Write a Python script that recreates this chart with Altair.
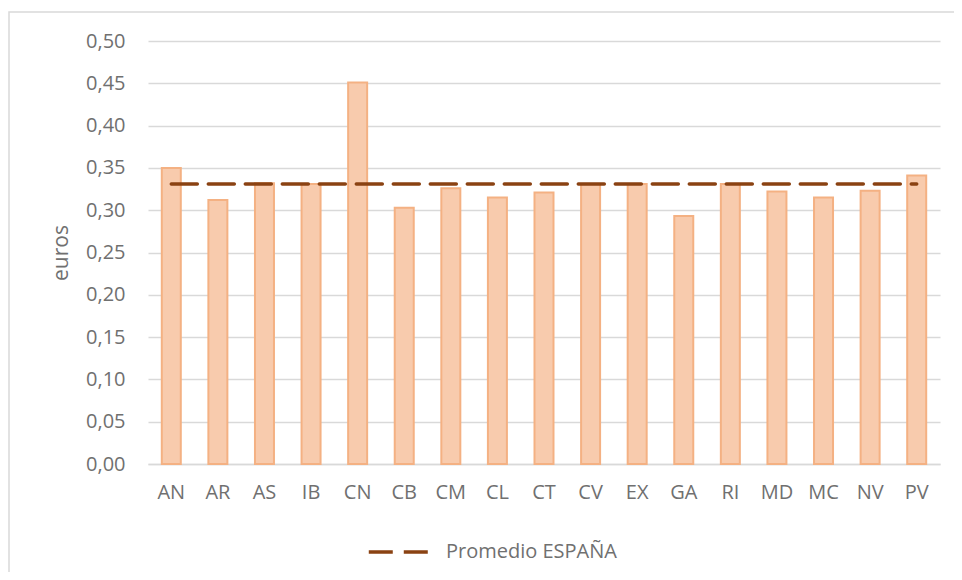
import altair as alt
import pandas as pd

regions = ["AN", "AR", "AS", "IB", "CN", "CB", "CM", "CL", "CT", "CV",
           "EX", "GA", "RI", "MD", "MC", "NV", "PV"]
values = [0.350, 0.312, 0.332, 0.331, 0.451, 0.303, 0.326, 0.315, 0.321, 0.331,
          0.331, 0.293, 0.331, 0.322, 0.315, 0.323, 0.341]
promedio = 0.331
legend_label = "Promedio ESPAÑA"
y_ticks = [0, 0.05, 0.10, 0.15, 0.20, 0.25, 0.30, 0.35, 0.40, 0.45, 0.50]

df = pd.DataFrame({"region": regions, "valor": values,
                   "promedio": [promedio] * len(regions),
                   "serie": [legend_label] * len(regions)})

FONT = "Open Sans"
TXT = "#707070"
GRID = "#D9D9D9"

x_enc = alt.X("region:N", sort=regions, title=None,
              scale=alt.Scale(paddingInner=0, paddingOuter=0),
              axis=alt.Axis(labelAngle=0, ticks=False, tickSize=0, labelPadding=18,
                            domainColor=GRID, domainWidth=1.5, grid=False,
                            labelFont=FONT, labelFontSize=20, labelColor=TXT))

bars = alt.Chart(df).mark_bar(width=19, fill="#F8CBAD", stroke="#F4B183",
                              strokeWidth=2).encode(
    x=x_enc,
    y=alt.Y("valor:Q", title="euros",
            scale=alt.Scale(domain=[0, 0.5], nice=False),
            axis=alt.Axis(values=y_ticks, format=".2f", ticks=False, tickSize=0,
                          domain=False, labelPadding=23, gridColor=GRID,
                          gridWidth=1.5, labelFont=FONT, labelFontSize=20,
                          labelColor=TXT, titleFont=FONT, titleFontSize=21,
                          titleFontWeight="normal", titleColor=TXT,
                          titlePadding=14, labelExpr="replace(datum.label, '.', ',')")),
)

line = alt.Chart(df).mark_line(strokeWidth=3.5, strokeDash=[26, 11],
                               strokeCap="round").encode(
    x=alt.X("region:N", sort=regions),
    y=alt.Y("promedio:Q"),
    color=alt.Color("serie:N", title=None,
                    scale=alt.Scale(domain=[legend_label], range=["#8A4212"]),
                    legend=alt.Legend(orient="none", legendX=219, legendY=478,
                                      symbolType="stroke", symbolSize=3900,
                                      symbolStrokeWidth=3.5, symbolDash=[24, 11],
                                      labelFont=FONT, labelFontSize=20,
                                      labelLimit=0,
                                      labelColor=TXT, labelOffset=13)),
)

frame = alt.Chart(pd.DataFrame({"k": [0]})).mark_rect(
    fill="transparent", stroke=GRID, strokeWidth=1.5).encode(
    x=alt.value(-139), x2=alt.value(830), y=alt.value(-29), y2=alt.value(560))

chart = alt.layer(frame, bars, line).properties(
    width=792, height=423,
    autosize=alt.AutoSizeParams(type="none"),
    padding={"left": 140, "top": 33, "right": 14, "bottom": 108},
    background="white",
).configure_view(stroke=None)

chart.save("out.html", embed_options={"renderer": "svg", "actions": False})
